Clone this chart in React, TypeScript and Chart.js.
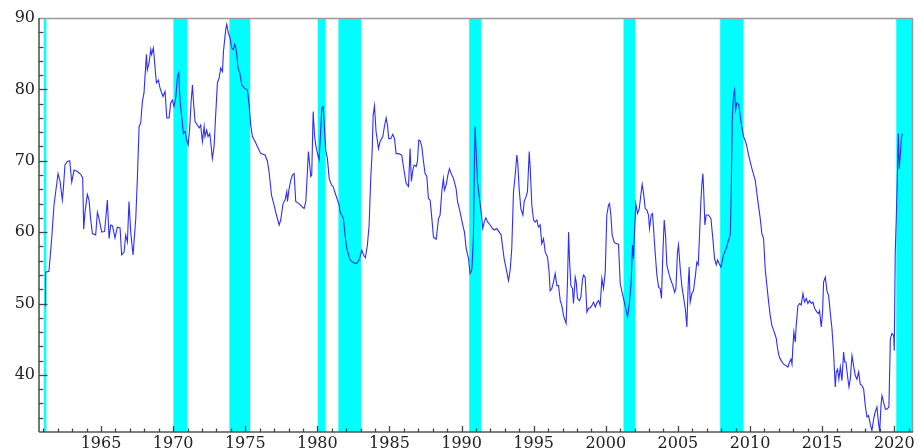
import { useEffect, useRef } from 'react';
import { Chart, registerables } from 'chart.js';

Chart.register(...registerables);

// ---- data ----
const lineYears: number[] = [
  1961.12, 1961.16, 1961.39, 1961.58, 1961.74, 1961.86, 1962.02, 1962.16, 1962.32, 1962.39, 1962.50, 1962.67, 1962.83, 1962.97,
  1963.13, 1963.36, 1963.59, 1963.73, 1963.80, 1963.89, 1964.05, 1964.17, 1964.28, 1964.40, 1964.63, 1964.75, 1964.86,
  1965.05, 1965.25, 1965.44, 1965.56, 1965.67, 1965.79, 1965.97, 1966.13, 1966.32, 1966.43, 1966.60, 1966.71, 1966.83, 1966.94,
  1967.06, 1967.22, 1967.41, 1967.52, 1967.64, 1967.75, 1967.87, 1967.98, 1968.10, 1968.15, 1968.21, 1968.33, 1968.45, 1968.51,
  1968.63, 1968.75, 1968.84, 1968.98, 1969.09, 1969.21, 1969.30, 1969.44, 1969.56, 1969.72, 1969.83, 1969.95, 1970.06, 1970.18,
  1970.30, 1970.39, 1970.48, 1970.60, 1970.71, 1970.83, 1970.94, 1971.04, 1971.15, 1971.24, 1971.34, 1971.41, 1971.52, 1971.68,
  1971.80, 1971.91, 1972.03, 1972.15, 1972.21, 1972.33, 1972.42, 1972.54, 1972.63, 1972.72, 1972.84, 1972.95, 1973.07, 1973.19,
  1973.30, 1973.42, 1973.49, 1973.56, 1973.65, 1973.72, 1973.83, 1973.95, 1974.06, 1974.18, 1974.27, 1974.34, 1974.41, 1974.50,
  1974.62, 1974.76, 1974.92, 1975.15, 1975.27, 1975.38, 1975.50, 1975.68, 1975.84, 1976.08, 1976.38, 1976.54, 1976.65, 1976.82,
  1977.00, 1977.16, 1977.35, 1977.46, 1977.62, 1977.76, 1977.88, 1977.93, 1978.04, 1978.16, 1978.27, 1978.39, 1978.50, 1978.73,
  1978.97, 1979.08, 1979.20, 1979.31, 1979.38, 1979.47, 1979.54, 1979.61, 1979.71, 1979.80, 1979.89, 1980.01, 1980.12, 1980.24,
  1980.31, 1980.40, 1980.49, 1980.58, 1980.70, 1980.82, 1980.98, 1981.09, 1981.28, 1981.51,
  1981.58, 1981.81, 1981.92, 1982.04, 1982.27, 1982.50, 1982.73, 1982.92, 1983.08, 1983.20, 1983.33, 1983.47, 1983.59, 1983.70,
  1983.80, 1983.87, 1983.96, 1984.07, 1984.24, 1984.35, 1984.54, 1984.65, 1984.77, 1984.86, 1984.95, 1985.09, 1985.23, 1985.35,
  1985.46, 1985.62, 1985.85, 1986.02, 1986.16, 1986.32, 1986.43, 1986.52, 1986.62, 1986.71, 1986.85, 1986.94, 1987.03, 1987.13,
  1987.24, 1987.36, 1987.47, 1987.59, 1987.70, 1987.82, 1987.94, 1988.05, 1988.24, 1988.40, 1988.51, 1988.63, 1988.74, 1988.81,
  1988.93, 1989.05, 1989.16, 1989.28, 1989.44, 1989.62, 1989.72, 1989.90, 1990.06, 1990.20, 1990.32, 1990.48, 1990.59, 1990.71,
  1990.82, 1990.89, 1990.94, 1991.01, 1991.10, 1991.24, 1991.36, 1991.47, 1991.57, 1991.68, 1991.82, 1991.98, 1992.14, 1992.28,
  1992.44, 1992.61, 1992.74, 1992.86, 1992.95, 1993.09, 1993.25, 1993.37, 1993.48, 1993.60, 1993.72, 1993.83, 1993.90, 1993.99,
  1994.11, 1994.25, 1994.34, 1994.48, 1994.57, 1994.69, 1994.76, 1994.87, 1994.99, 1995.10, 1995.22, 1995.33, 1995.45, 1995.56,
  1995.68, 1995.80, 1995.96, 1996.07, 1996.14, 1996.26, 1996.37, 1996.49, 1996.61, 1996.72, 1996.84, 1996.95, 1997.07, 1997.18,
  1997.25, 1997.35, 1997.42, 1997.48, 1997.58, 1997.69, 1997.76, 1997.88, 1997.95, 1998.04, 1998.18, 1998.27, 1998.39, 1998.46,
  1998.57, 1998.69, 1998.80, 1998.92, 1999.03, 1999.15, 1999.27, 1999.38, 1999.50, 1999.61, 1999.73, 1999.84, 1999.96, 2000.07,
  2000.19, 2000.26, 2000.35, 2000.44, 2000.58, 2000.70, 2000.88, 2001.00,
  2001.18, 2001.34, 2001.51, 2001.64, 2001.76, 2001.85, 2001.92, 2001.99, 2002.08, 2002.20, 2002.32, 2002.43, 2002.52, 2002.62,
  2002.73, 2002.85, 2002.96, 2003.03, 2003.15, 2003.24, 2003.31, 2003.42, 2003.54, 2003.66, 2003.77, 2003.86, 2003.96, 2004.05,
  2004.14, 2004.23, 2004.35, 2004.47, 2004.65, 2004.77, 2004.86, 2004.97, 2005.04, 2005.16, 2005.27, 2005.39, 2005.51, 2005.62,
  2005.71, 2005.78, 2005.85, 2005.97, 2006.08, 2006.20, 2006.31, 2006.41, 2006.50, 2006.59, 2006.66, 2006.73, 2006.78, 2006.87,
  2006.96, 2007.12, 2007.29, 2007.42, 2007.54, 2007.66, 2007.75, 2007.86, 2007.98, 2008.16, 2008.35, 2008.51, 2008.63, 2008.70,
  2008.77, 2008.86, 2008.93, 2009.00, 2009.09, 2009.23, 2009.37, 2009.55, 2009.74, 2009.90, 2010.13, 2010.36, 2010.52, 2010.71,
  2010.82, 2010.94, 2011.05, 2011.17, 2011.29, 2011.40, 2011.52, 2011.68, 2011.82, 2011.91, 2012.03, 2012.16, 2012.33, 2012.49,
  2012.63, 2012.74, 2012.84, 2012.91, 2012.97, 2013.04, 2013.14, 2013.20, 2013.32, 2013.44, 2013.55, 2013.67, 2013.78, 2013.90,
  2014.01, 2014.13, 2014.25, 2014.36, 2014.48, 2014.64, 2014.75, 2014.82, 2014.94, 2015.03, 2015.10, 2015.22, 2015.33, 2015.45,
  2015.56, 2015.68, 2015.79, 2015.91, 2015.98, 2016.07, 2016.16, 2016.26, 2016.37, 2016.49, 2016.56, 2016.65, 2016.77, 2016.86,
  2016.95, 2017.07, 2017.18, 2017.30, 2017.41, 2017.53, 2017.64, 2017.76, 2017.88, 2017.99, 2018.11, 2018.22, 2018.34, 2018.45,
  2018.57, 2018.68, 2018.80, 2018.92, 2018.99, 2019.08, 2019.15, 2019.26, 2019.38, 2019.49, 2019.63, 2019.73, 2019.84, 2019.96,
  2020.00, 2020.07, 2020.14, 2020.23, 2020.28, 2020.35, 2020.42, 2020.49, 2020.56,
];

const lineValues: number[] = [
  49.7, 54.4, 54.5, 59.1, 63.8, 65.7, 68.2, 67.1, 64.5, 66.1, 69.4, 69.9, 70.0, 67.0,
  68.7, 68.5, 68.1, 67.6, 60.4, 62.8, 65.3, 64.5, 61.9, 59.8, 59.6, 62.8, 61.9,
  60.0, 60.1, 64.5, 59.1, 61.0, 60.9, 59.2, 60.7, 60.6, 56.8, 57.2, 59.6, 58.6, 64.3,
  60.0, 56.8, 61.9, 67.5, 74.8, 75.3, 78.3, 79.5, 83.4, 84.9, 82.7, 83.7, 85.6, 84.9,
  85.8, 83.0, 80.9, 81.3, 80.2, 79.5, 79.0, 79.7, 76.0, 76.0, 78.1, 78.5, 77.6, 78.8,
  81.8, 82.3, 78.3, 76.0, 73.8, 74.1, 72.9, 72.2, 74.6, 78.1, 80.6, 78.3, 75.5, 75.0,
  74.6, 75.0, 72.7, 74.8, 73.4, 74.3, 73.4, 73.8, 72.2, 70.3, 72.0, 76.4, 80.9, 81.6,
  83.0, 82.5, 85.3, 86.7, 88.4, 89.1, 87.9, 87.2, 85.8, 85.6, 86.3, 85.9, 84.9, 83.0,
  82.3, 80.6, 80.2, 79.9, 77.8, 75.0, 73.4, 72.7, 72.0, 71.0, 70.8, 69.9, 68.5, 65.2,
  63.8, 62.4, 61.0, 61.7, 64.0, 64.5, 65.7, 64.3, 66.1, 67.3, 68.0, 68.2, 64.3, 64.0,
  63.5, 63.3, 64.3, 68.5, 71.3, 69.4, 67.8, 68.0, 76.9, 73.6, 72.2, 71.0, 70.1, 74.6,
  77.4, 77.6, 74.6, 71.5, 70.3, 67.5, 66.6, 66.4, 65.2, 63.8,
  62.8, 61.9, 59.6, 57.7, 56.1, 55.7, 55.6, 56.2, 57.5, 56.8, 56.4, 58.2, 61.0, 67.5,
  71.3, 76.4, 77.7, 74.1, 71.7, 72.7, 73.4, 74.8, 76.0, 75.0, 73.1, 73.1, 73.7, 73.1,
  71.0, 71.0, 70.8, 68.5, 66.8, 66.4, 71.7, 67.1, 68.7, 69.4, 69.2, 69.9, 72.9, 72.8,
  72.0, 69.9, 68.2, 67.8, 64.7, 64.5, 61.9, 59.3, 59.0, 61.9, 62.4, 65.7, 67.5, 65.9,
  66.6, 68.0, 68.9, 68.2, 67.5, 66.1, 64.3, 62.8, 61.2, 60.0, 57.7, 56.3, 54.2, 54.7,
  59.1, 69.9, 74.8, 71.3, 67.1, 64.7, 62.8, 60.5, 61.4, 62.0, 61.4, 61.0, 60.5, 60.3,
  60.5, 60.0, 59.6, 57.7, 56.3, 54.9, 53.2, 54.7, 57.7, 65.7, 68.0, 70.8, 69.6, 66.1,
  63.3, 62.4, 64.3, 65.0, 65.7, 71.3, 68.9, 63.8, 61.7, 61.4, 61.7, 60.7, 61.0, 58.4,
  59.1, 57.2, 56.5, 54.4, 51.8, 52.1, 53.0, 54.2, 52.5, 52.5, 50.4, 49.7, 48.3, 47.6,
  47.2, 53.5, 60.0, 56.3, 52.5, 52.1, 50.0, 53.7, 53.0, 50.7, 50.4, 50.9, 53.5, 54.0,
  53.7, 48.8, 49.3, 49.4, 49.7, 50.2, 49.5, 50.1, 50.4, 49.7, 53.5, 52.1, 54.4, 62.4,
  63.8, 64.0, 62.4, 59.6, 58.6, 58.4, 58.3, 52.8,
  51.1, 49.7, 48.1, 50.2, 53.0, 58.2, 56.3, 60.0, 64.0, 62.6, 63.3, 65.2, 66.7, 65.4,
  63.3, 63.1, 62.4, 60.5, 62.4, 62.6, 60.5, 57.2, 54.0, 52.3, 52.1, 50.7, 57.2, 61.7,
  59.6, 55.4, 54.4, 53.5, 52.5, 51.6, 52.1, 57.2, 58.2, 54.9, 52.5, 50.9, 49.3, 46.7,
  52.5, 55.1, 50.2, 51.4, 51.8, 53.7, 55.8, 55.4, 59.6, 64.3, 66.6, 68.2, 66.1, 61.0,
  62.4, 62.4, 61.9, 59.1, 56.3, 55.4, 56.1, 55.6, 55.1, 56.8, 57.7, 58.9, 59.6, 66.1,
  76.0, 79.2, 79.9, 77.1, 78.1, 77.8, 75.5, 73.4, 72.4, 70.8, 68.9, 67.3, 64.7, 61.9,
  59.8, 59.1, 54.9, 52.5, 50.2, 48.3, 46.9, 46.0, 45.1, 43.7, 42.5, 42.0, 41.5, 41.3,
  41.1, 41.8, 42.2, 41.5, 43.9, 46.0, 44.6, 46.9, 49.7, 50.0, 49.8, 51.4, 50.2, 50.7,
  50.0, 50.4, 50.0, 50.2, 49.3, 48.8, 48.6, 49.0, 46.7, 48.8, 53.0, 53.7, 51.8, 51.1,
  48.8, 46.5, 43.2, 38.3, 40.4, 40.8, 39.4, 41.1, 39.2, 43.2, 41.8, 41.8, 39.7, 38.3,
  39.4, 42.7, 41.3, 39.9, 39.4, 40.4, 38.7, 38.5, 38.0, 35.7, 34.1, 34.3, 33.1, 32.2,
  33.8, 34.8, 35.5, 33.1, 32.0, 35.7, 37.1, 36.2, 35.2, 35.2, 35.5, 45.1, 45.8, 45.5,
  43.4, 57.2, 61.9, 68.9, 73.8, 68.9, 70.8, 73.1, 73.8,
];

// recession periods (shaded bands)
const recessionStarts: number[] = [1961.05, 1970.02, 1973.9, 1980.03, 1981.46, 1990.53, 2001.23, 2007.93, 2020.14];
const recessionEnds: number[] = [1961.21, 1970.99, 1975.34, 1980.58, 1983.03, 1991.36, 2002.04, 2009.55, 2021.23];

// axis labels
const xTickLabels: number[] = [1965, 1970, 1975, 1980, 1985, 1990, 1995, 2000, 2005, 2010, 2015, 2020];
const yTickLabels: number[] = [40, 50, 60, 70, 80, 90];

const X_MIN = 1960.7;
const X_MAX = 2021.3;
const Y_MIN = 32;
const Y_MAX = 90;

const bandsPlugin = {
  id: 'recessionBands',
  beforeDatasetsDraw(chart: any) {
    const { ctx, chartArea, scales } = chart;
    const x = scales.x;
    ctx.save();
    ctx.beginPath();
    ctx.rect(chartArea.left, chartArea.top, chartArea.right - chartArea.left, chartArea.bottom - chartArea.top);
    ctx.clip();
    ctx.fillStyle = '#00ffff';
    for (let i = 0; i < recessionStarts.length; i++) {
      const a = x.getPixelForValue(recessionStarts[i]);
      const b = x.getPixelForValue(recessionEnds[i]);
      ctx.fillRect(a, chartArea.top, b - a, chartArea.bottom - chartArea.top);
    }
    ctx.restore();
  },
};

const framePlugin = {
  id: 'frameAndTicks',
  afterDraw(chart: any) {
    const { ctx, chartArea, scales } = chart;
    const { left, top, right, bottom } = chartArea;
    const x = scales.x;
    const y = scales.y;
    const line = (x1: number, y1: number, x2: number, y2: number) => {
      ctx.beginPath();
      ctx.moveTo(x1, y1);
      ctx.lineTo(x2, y2);
      ctx.stroke();
    };
    ctx.save();
    // top / right frame
    ctx.strokeStyle = '#999999';
    ctx.lineWidth = 1.5;
    line(left, top + 0.5, right, top + 0.5);
    line(right - 0.5, top, right - 0.5, bottom);
    // axes
    ctx.strokeStyle = '#555555';
    ctx.lineWidth = 1.6;
    line(left, bottom, right, bottom);
    line(left, top, left, bottom);
    // ticks
    ctx.strokeStyle = '#444444';
    ctx.lineWidth = 1.3;
    for (let yr = Math.ceil(X_MIN); yr <= Math.floor(X_MAX); yr++) {
      const px = Math.round(x.getPixelForValue(yr)) + 0.5;
      const len = yr % 5 === 0 ? 6 : 3.5;
      line(px, bottom, px, bottom - len);
    }
    for (let v = Y_MIN + 2; v < Y_MAX; v += 2) {
      const py = Math.round(y.getPixelForValue(v)) + 0.5;
      const len = v % 10 === 0 ? 8.5 : 4.5;
      line(left, py, left + len, py);
    }
    ctx.restore();
  },
};

export default function App() {
  const canvasRef = useRef<HTMLCanvasElement | null>(null);

  useEffect(() => {
    const canvas = canvasRef.current;
    if (!canvas) return;
    const points = lineYears.map((yr, i) => ({ x: yr, y: lineValues[i] }));
    const tickFont = { family: '"DejaVu Serif", serif', size: 16 };
    const chart = new Chart(canvas, {
      type: 'line',
      data: {
        datasets: [
          {
            data: points,
            borderColor: 'rgb(45,45,255)',
            borderWidth: 1.1,
            pointRadius: 0,
            tension: 0,
            fill: false,
          },
        ],
      },
      options: {
        responsive: false,
        animation: false,
        events: [],
        layout: { padding: { left: 0, top: 18, right: 5, bottom: 0 } },
        plugins: { legend: { display: false }, tooltip: { enabled: false } },
        scales: {
          x: {
            type: 'linear',
            min: X_MIN,
            max: X_MAX,
            afterFit(scale: any) {
              scale.height = 16;
            },
            grid: { display: false, drawTicks: false },
            border: { display: false },
            ticks: {
              stepSize: 5,
              includeBounds: false,
              autoSkip: false,
              maxRotation: 0,
              padding: 2,
              color: '#222222',
              font: tickFont,
              callback: (v: any) => (xTickLabels.includes(Number(v)) ? String(v) : ''),
            },
          },
          y: {
            type: 'linear',
            min: Y_MIN,
            max: Y_MAX,
            afterFit(scale: any) {
              scale.width = 39;
            },
            grid: { display: false, drawTicks: false },
            border: { display: false },
            ticks: {
              stepSize: 10,
              includeBounds: false,
              padding: 4,
              color: '#222222',
              font: tickFont,
              callback: (v: any) => (yTickLabels.includes(Number(v)) ? String(v) : ''),
            },
          },
        },
      },
      plugins: [bandsPlugin, framePlugin],
    } as any);
    return () => chart.destroy();
  }, []);

  return (
    <div style={{ position: 'absolute', left: 0, top: 0, width: 918, height: 448, background: '#fff' }}>
      <canvas ref={canvasRef} width={918} height={448} style={{ display: 'block' }} />
    </div>
  );
}
